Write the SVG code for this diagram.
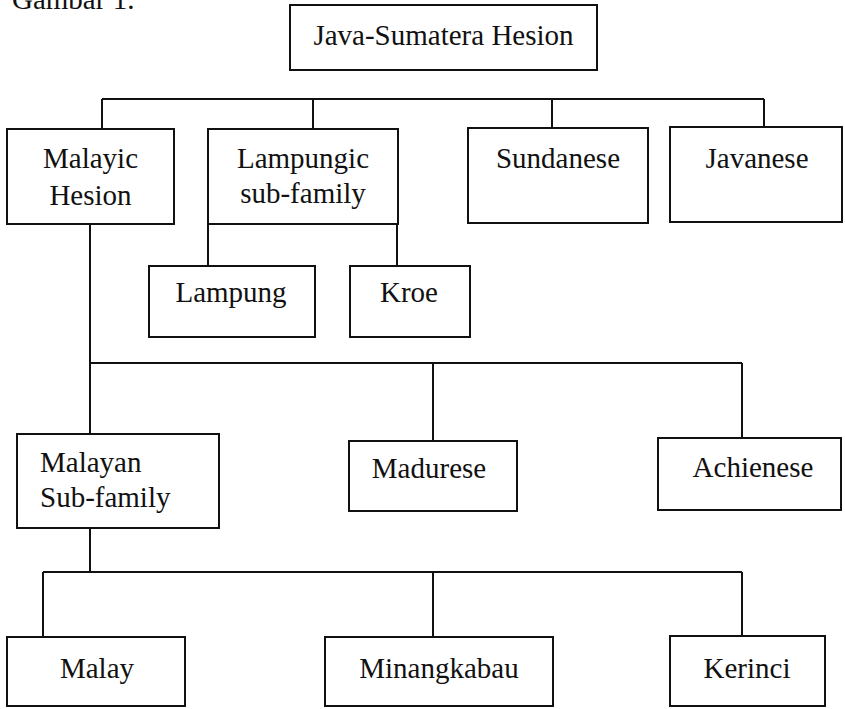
<svg xmlns="http://www.w3.org/2000/svg" width="845" height="709" viewBox="0 0 845 709">
<style>
.box{fill:#fff;stroke:#111;stroke-width:2}
.t{font-family:"Liberation Serif","Times New Roman",serif;font-size:29px;fill:#111}
.c{text-anchor:middle}
.conn{fill:none;stroke:#111;stroke-width:2}
</style>
<rect width="845" height="709" fill="#fff"/>
<text class="t" x="12" y="9">Gambar 1.</text>
<g id="connectors" class="conn">
<path d="M102 99H764M102 99V129M313 99V129M552 99V128M764 99V127"/>
<path d="M208 224V266M397 224V266"/>
<path d="M90 224V434M90 363H742M433 363V441M742 363V438"/>
<path d="M90 528V572M43 572H742M43 572V637M433 572V637M742 572V636"/>
</g>
<g id="java-sumatera"><rect class="box" x="290" y="5" width="307" height="65"/><text class="t c" x="443.5" y="45">Java-Sumatera Hesion</text></g>
<g id="malayic"><rect class="box" x="7" y="129" width="167" height="95"/><text class="t c" x="90.5" y="168">Malayic</text><text class="t c" x="90.5" y="205">Hesion</text></g>
<g id="lampungic"><rect class="box" x="208" y="129" width="190" height="95"/><text class="t c" x="303" y="168">Lampungic</text><text class="t c" x="303" y="203">sub-family</text></g>
<g id="sundanese"><rect class="box" x="468" y="128" width="180" height="95"/><text class="t c" x="558" y="168">Sundanese</text></g>
<g id="javanese"><rect class="box" x="670" y="127" width="172" height="95"/><text class="t c" x="757" y="168">Javanese</text></g>
<g id="lampung"><rect class="box" x="149" y="266" width="166" height="71"/><text class="t c" x="231" y="302">Lampung</text></g>
<g id="kroe"><rect class="box" x="350" y="266" width="120" height="71"/><text class="t c" x="409" y="302">Kroe</text></g>
<g id="malayan"><rect class="box" x="17" y="434" width="202" height="94"/><text class="t" x="40" y="472">Malayan</text><text class="t" x="40" y="507">Sub-family</text></g>
<g id="madurese"><rect class="box" x="349" y="441" width="168" height="70"/><text class="t c" x="429" y="478">Madurese</text></g>
<g id="achienese"><rect class="box" x="658" y="438" width="183" height="72"/><text class="t c" x="753" y="477">Achienese</text></g>
<g id="malay"><rect class="box" x="7" y="637" width="178" height="69"/><text class="t c" x="97" y="678">Malay</text></g>
<g id="minangkabau"><rect class="box" x="325" y="637" width="228" height="69"/><text class="t c" x="439" y="678">Minangkabau</text></g>
<g id="kerinci"><rect class="box" x="670" y="636" width="155" height="70"/><text class="t c" x="747" y="678">Kerinci</text></g>
</svg>
